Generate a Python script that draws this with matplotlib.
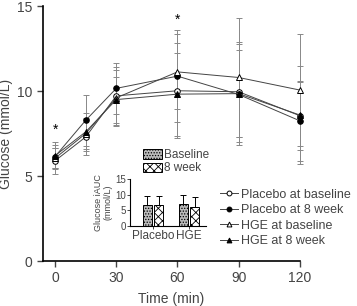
import matplotlib
matplotlib.use('Agg')
import matplotlib.pyplot as plt
from matplotlib.lines import Line2D
from matplotlib.patches import Patch

plt.rcParams['font.family'] = ['Liberation Sans', 'DejaVu Sans']
plt.rcParams['hatch.linewidth'] = 0.6

# curvas de glicose (mmol/L) ao longo do teste
time = [0, 15, 30, 60, 90, 120]
placebo_base = [5.9, 7.3, 9.72, 10.02, 9.96, 8.55]
placebo_base_sd = [0.75, 1.05, 1.7, 2.8, 2.95, 2.0]
placebo_8wk = [6.15, 8.28, 10.16, 10.88, 9.8, 8.25]
placebo_8wk_sd = [0.65, 1.5, 1.5, 2.7, 2.95, 2.35]
hge_base = [6.05, 7.5, 9.6, 11.13, 10.8, 10.06]
hge_base_sd = [0.6, 0.9, 1.65, 2.2, 3.5, 3.3]
hge_8wk = [6.2, 7.6, 9.5, 9.82, 9.85, 8.59]
hge_8wk_sd = [0.8, 1.1, 1.35, 2.45, 2.55, 2.9]

# pontos com diferença significativa
star_time = [0, 60]
star_level = [7.3, 13.8]

# inset: iAUC
groups = ['Placebo', 'HGE']
iauc_base = [6.7, 7.0]
iauc_base_sd = [3.0, 3.0]
iauc_8wk = [6.8, 6.2]
iauc_8wk_sd = [2.8, 3.2]

text_color = '#444444'
line_color = '#444444'
err_color = '#888888'

fig = plt.figure(figsize=(3.57, 3.06), dpi=100)
ax = fig.add_axes([0.120, 0.147, 0.720, 0.833])

series = [
    (placebo_base, placebo_base_sd, 'o', 'white', 'Placebo at baseline'),
    (placebo_8wk, placebo_8wk_sd, 'o', 'black', 'Placebo at 8 week'),
    (hge_base, hge_base_sd, '^', 'white', 'HGE at baseline'),
    (hge_8wk, hge_8wk_sd, '^', 'black', 'HGE at 8 week'),
]
handles = []
for y, sd, marker, face, label in series:
    ax.errorbar(time, y, yerr=sd, fmt='none', ecolor=err_color,
                elinewidth=0.7, capsize=2.5, capthick=0.7, clip_on=False, zorder=2)
    ax.plot(time, y, color=line_color, lw=0.7, marker=marker, ms=4,
            mfc=face, mec='black', mew=0.7, clip_on=False, zorder=3)
    handles.append(Line2D([], [], color=line_color, lw=0.7, marker=marker, ms=3.5,
                          mfc=face, mec='black', mew=0.7, label=label))

for t, lvl in zip(star_time, star_level):
    ax.text(t, lvl, '*', ha='center', va='bottom', fontsize=10, color='black')

ax.set_xlim(-6, 120)
ax.set_ylim(0, 15)
ax.set_xticks([0, 30, 60, 90, 120])
ax.set_yticks([0, 5, 10, 15])
ax.spines['top'].set_visible(False)
ax.spines['right'].set_visible(False)
ax.spines['left'].set_linewidth(1.2)
ax.spines['bottom'].set_linewidth(1.2)
ax.tick_params(labelsize=10, colors=text_color, length=4, width=1)
ax.set_xlabel('Time (min)', fontsize=10, color=text_color, labelpad=5)
ax.set_ylabel('Glucose (mmol/L)', fontsize=10, color=text_color, labelpad=3)

ax.legend(handles=handles, loc='upper left', bbox_to_anchor=(0.585, 0.42),
          bbox_transform=fig.transFigure, frameon=False, fontsize=9,
          handlelength=1.4, handletextpad=0.3, labelspacing=0.28,
          labelcolor=text_color)

# inset
ins = fig.add_axes([0.364, 0.261, 0.213, 0.154])
pos = list(range(len(groups)))
off = 0.155
w = 0.25
b1 = ins.bar([p - off for p in pos], iauc_base, w, yerr=[[0] * len(pos), iauc_base_sd],
             color='#bbbbbb', edgecolor='black', hatch='......', lw=0.7,
             error_kw=dict(ecolor='black', elinewidth=0.7, capsize=2, capthick=0.7))
b2 = ins.bar([p + off for p in pos], iauc_8wk, w, yerr=[[0] * len(pos), iauc_8wk_sd],
             color='white', edgecolor='black', hatch='xxxx', lw=0.7,
             error_kw=dict(ecolor='black', elinewidth=0.7, capsize=2, capthick=0.7))
ins.set_xlim(-0.64, 1.47)
ins.set_ylim(0, 15)
ins.set_yticks([0, 5, 10, 15])
ins.set_xticks(pos)
ins.set_xticklabels(groups)
ins.spines['top'].set_visible(False)
ins.spines['right'].set_visible(False)
ins.spines['left'].set_linewidth(0.8)
ins.spines['bottom'].set_linewidth(0.8)
ins.tick_params(axis='y', labelsize=7, colors=text_color, length=2, width=0.7, pad=1)
ins.tick_params(axis='x', labelsize=8.5, colors=text_color, length=2, width=0.7, pad=1)
ins.set_ylabel('Glucose iAUC\n(mmol/L)', fontsize=6.5, color=text_color, labelpad=2,
               linespacing=1.0)
ins.legend([Patch(facecolor='#bbbbbb', edgecolor='black', hatch='......', lw=0.7),
            Patch(facecolor='white', edgecolor='black', hatch='xxxx', lw=0.7)],
           ['Baseline', '8 week'], loc='lower left', bbox_to_anchor=(0.08, 0.95),
           frameon=False, fontsize=8.5, handlelength=1.6, handleheight=0.8,
           handletextpad=0.2, labelspacing=0.1, borderpad=0.1, labelcolor=text_color)

fig.savefig('out.png', dpi=100)
